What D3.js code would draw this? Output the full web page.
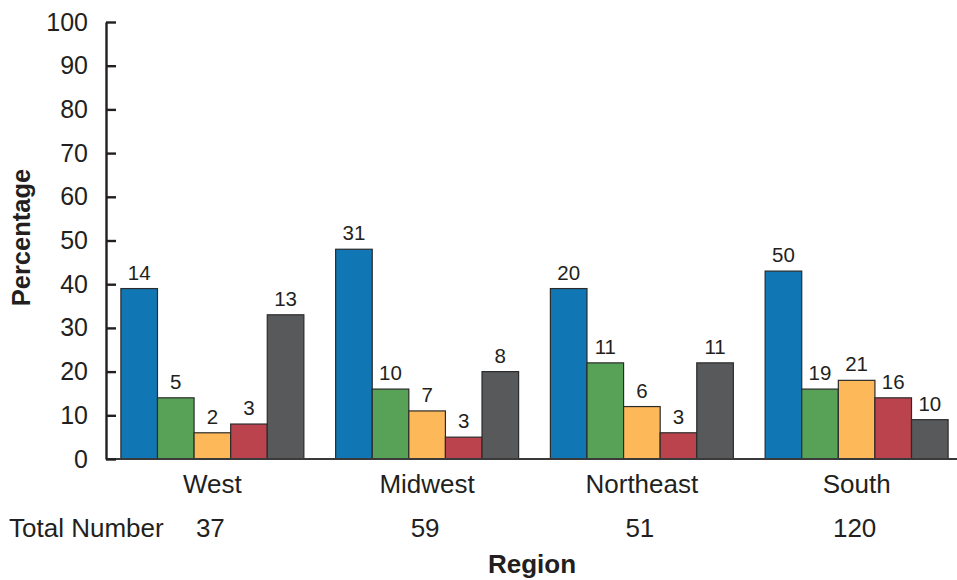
<!DOCTYPE html>
<html>
<head>
<meta charset="utf-8">
<script src="https://cdn.jsdelivr.net/npm/d3@7"></script>
<style>
  html, body { margin: 0; padding: 0; background: #fff; }
  svg { display: block; font-family: "Liberation Sans", Arial, Helvetica, sans-serif; }
</style>
</head>
<body>
<svg id="chart" width="957" height="580"></svg>
<script>
// Regions along the x axis and the total count for each region
const regions = ["West", "Midwest", "Northeast", "South"];
const totals = [37, 59, 51, 120];

// Five series per region: percentage (bar height) and count (label above bar)
const seriesKeys = ["s1", "s2", "s3", "s4", "s5"];
const seriesColors = ["#1077b4", "#58a257", "#fdb85a", "#bb434d", "#58595b"];

const percentS1 = [39, 48, 39, 43];
const percentS2 = [14, 16, 22, 16];
const percentS3 = [6, 11, 12, 18];
const percentS4 = [8, 5, 6, 14];
const percentS5 = [33, 20, 22, 9];

const countS1 = [14, 31, 20, 50];
const countS2 = [5, 10, 11, 19];
const countS3 = [2, 7, 6, 21];
const countS4 = [3, 3, 3, 16];
const countS5 = [13, 8, 11, 10];

const yTicks = [0, 10, 20, 30, 40, 50, 60, 70, 80, 90, 100];

const percents = [percentS1, percentS2, percentS3, percentS4, percentS5];
const counts = [countS1, countS2, countS3, countS4, countS5];

const rows = regions.map((r, i) => ({
  region: r,
  total: totals[i],
  bars: seriesKeys.map((k, j) => ({ key: k, color: seriesColors[j], pct: percents[j][i], n: counts[j][i] }))
}));

const svg = d3.select("#chart");
const axisX = 106, baseY = 459, topY = 22;

const x0 = d3.scaleBand().domain(regions).range([105, 964]).paddingInner(0.148).paddingOuter(0.074);
const x1 = d3.scaleBand().domain(seriesKeys).range([0, x0.bandwidth()]);
const y = d3.scaleLinear().domain([0, 100]).range([baseY, topY]);

// Bars
const groups = svg.append("g").selectAll("g").data(rows).join("g")
  .attr("transform", d => `translate(${x0(d.region)},0)`);

groups.selectAll("rect").data(d => d.bars).join("rect")
  .attr("x", d => x1(d.key))
  .attr("y", d => y(d.pct))
  .attr("width", x1.bandwidth())
  .attr("height", d => y(0) - y(d.pct))
  .attr("fill", d => d.color)
  .attr("stroke", "#2b2b2b")
  .attr("stroke-width", 1.2);

// Count labels above bars
groups.selectAll("text").data(d => d.bars).join("text")
  .attr("x", d => x1(d.key) + x1.bandwidth() / 2)
  .attr("y", d => y(d.pct) - 9)
  .attr("text-anchor", "middle")
  .attr("font-size", 20.5)
  .attr("fill", "#231f20")
  .text(d => d.n);

// X baseline
svg.append("line")
  .attr("x1", axisX).attr("x2", 957)
  .attr("y1", baseY).attr("y2", baseY)
  .attr("stroke", "#3a3a3a").attr("stroke-width", 2.2);

// Y axis with inward ticks
const yAxis = svg.append("g")
  .attr("transform", `translate(${axisX},0)`)
  .call(d3.axisLeft(y).tickValues(yTicks).tickSizeInner(-10).tickSizeOuter(0).tickPadding(18));
yAxis.select(".domain").attr("stroke", "#231f20").attr("stroke-width", 2.4);
yAxis.selectAll(".tick line").attr("stroke", "#231f20").attr("stroke-width", 2.4);
yAxis.selectAll(".tick text")
  .attr("font-size", 25)
  .attr("font-family", "'Liberation Sans', Arial, sans-serif")
  .attr("fill", "#231f20");

// Region labels
svg.append("g").selectAll("text").data(rows).join("text")
  .attr("x", d => x0(d.region) + x0.bandwidth() / 2)
  .attr("y", 493)
  .attr("text-anchor", "middle")
  .attr("font-size", 26)
  .attr("fill", "#231f20")
  .text(d => d.region);

// Totals row
svg.append("text")
  .attr("x", 9).attr("y", 537)
  .attr("font-size", 26)
  .attr("fill", "#231f20")
  .text("Total Number");

svg.append("g").selectAll("text").data(rows).join("text")
  .attr("x", d => x0(d.region) + x0.bandwidth() / 2 - 2)
  .attr("y", 537)
  .attr("text-anchor", "middle")
  .attr("font-size", 26)
  .attr("fill", "#231f20")
  .text(d => d.total);

// Axis titles
svg.append("text")
  .attr("x", 532).attr("y", 573)
  .attr("text-anchor", "middle")
  .attr("font-size", 26)
  .attr("font-weight", "bold")
  .attr("fill", "#231f20")
  .text("Region");

svg.append("text")
  .attr("transform", "translate(30,237.5) rotate(-90)")
  .attr("text-anchor", "middle")
  .attr("font-size", 25.5)
  .attr("font-weight", "bold")
  .attr("fill", "#231f20")
  .text("Percentage");
</script>
</body>
</html>
